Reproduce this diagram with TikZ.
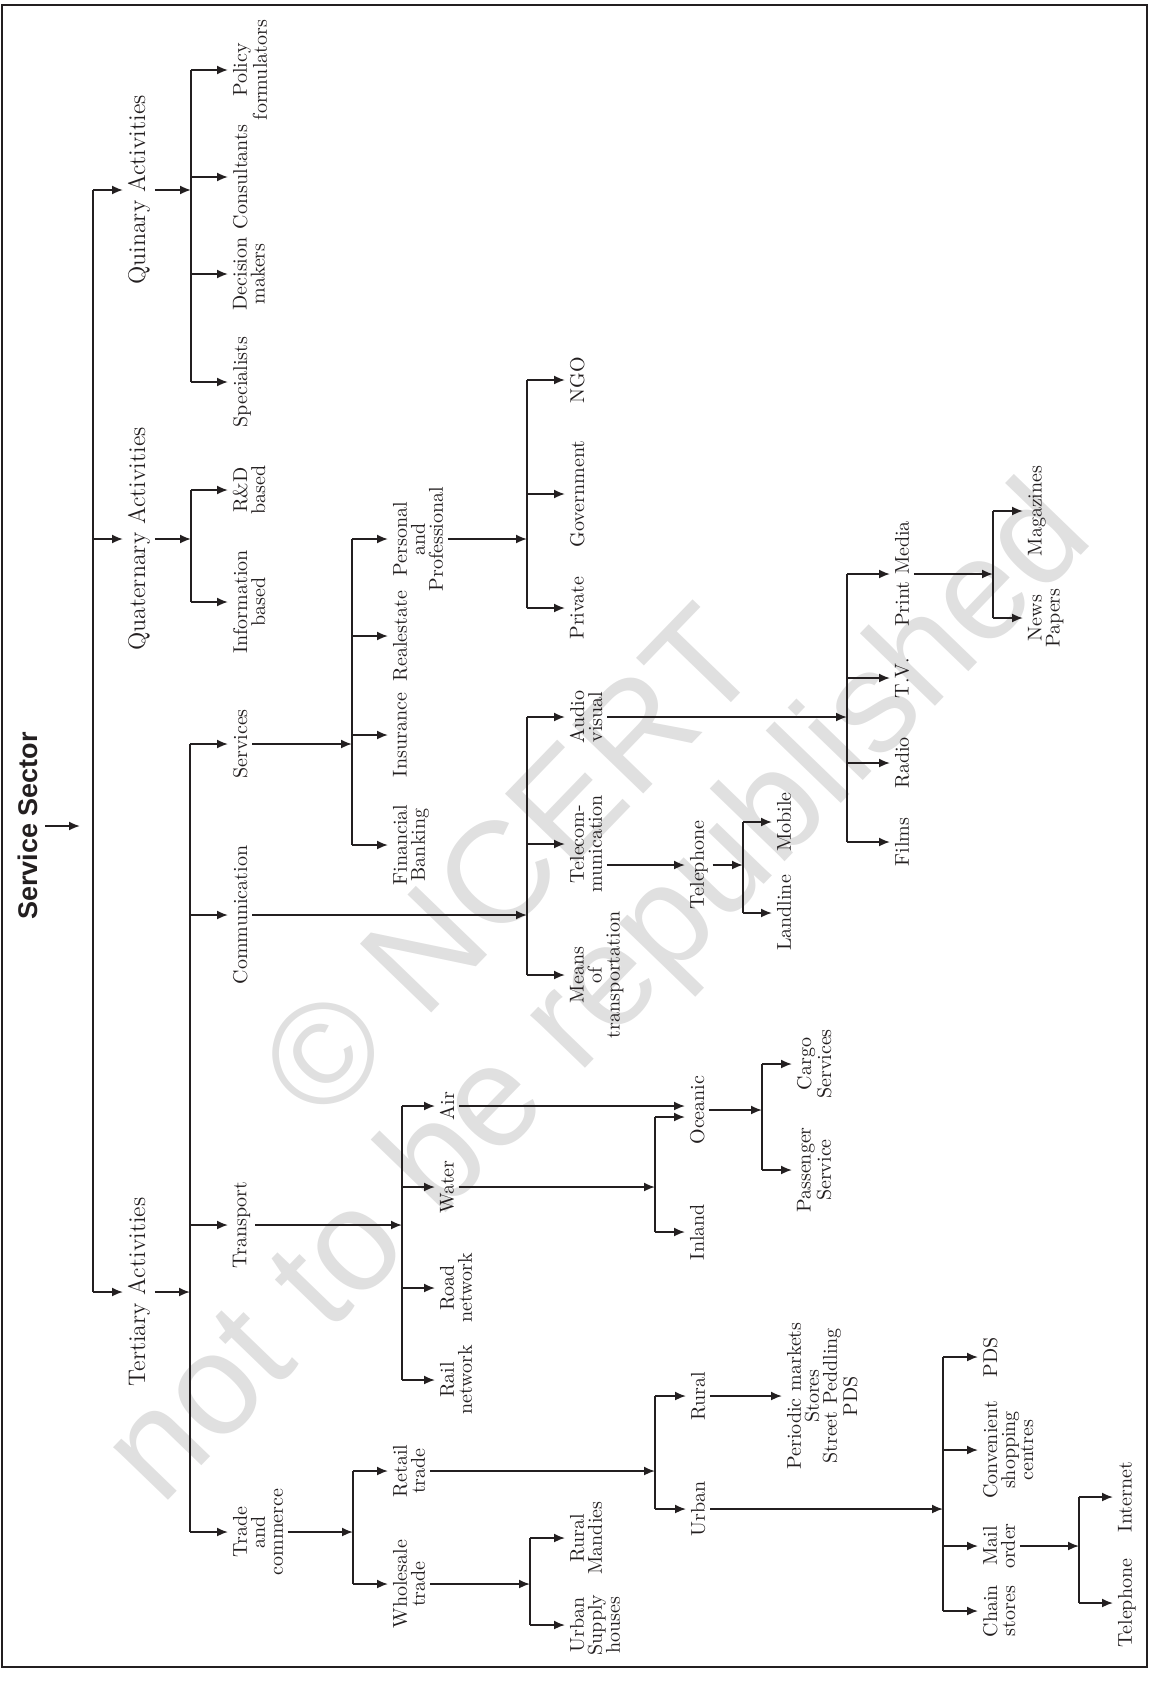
\documentclass[tikz,border=0pt]{standalone}
\usepackage{fontspec}
\usepackage{tikz}
\usetikzlibrary{arrows.meta}
\newfontfamily\headfont{Liberation Sans}
\definecolor{inkcolor}{RGB}{35,31,32}
\definecolor{markcolor}{RGB}{224,224,224}

\begin{document}
\begin{tikzpicture}[x=0.5pt, y=-0.5pt, color=inkcolor, line width=0.9pt,
    >={Latex[length=5.5pt,width=4.5pt]},
    lvl/.style={rotate=90, anchor=north, inner sep=2pt, font=\fontsize{12}{12}\selectfont},
    leaf/.style={rotate=90, anchor=north, inner sep=2pt, align=center, font=\fontsize{10}{9}\selectfont},
    wmark/.style={rotate=46, text=markcolor, font=\headfont\fontsize{72}{72}\selectfont}]
    \useasboundingbox (0,0) rectangle (1162,1686);
    % watermark
    \node[wmark] (wm1) at (509,862) {© NCERT};
    \node[wmark] (wm2) at (602,998) {not to be republished};
    \draw[line width=1.2pt] (2,5) rectangle (1147,1667);
    % root and first level
    \node[rotate=90, font=\headfont\bfseries\fontsize{13.5}{14}\selectfont] (root) at (28,826) {Service Sector};
    \coordinate (rootend) at (80,826);
    \coordinate (trunk) at (93,826);
    \node[lvl] (qui) at (123,190) {Quinary Activities};
    \node[lvl] (qua) at (123,539) {Quaternary Activities};
    \node[lvl] (ter) at (123,1292) {Tertiary Activities};
    \draw[->] (root.south) -- (root.south -| rootend);
    \draw (trunk |- qui.north) -- (trunk |- ter.north);
    \draw[->] (trunk |- qui.north) -- (qui.north);
    \draw[->] (trunk |- qua.north) -- (qua.north);
    \draw[->] (trunk |- ter.north) -- (ter.north);
    % quinary
    \coordinate (quibar) at (191,190);
    \node[leaf] (pol) at (228,70) {Policy\\formulators};
    \node[leaf] (con) at (228,177) {Consultants};
    \node[leaf] (dec) at (228,274) {Decision\\makers};
    \node[leaf] (spe) at (228,382) {Specialists};
    \draw[->] (qui.south) -- (qui.south -| quibar);
    \draw (quibar |- pol.north) -- (quibar |- spe.north);
    \draw[->] (quibar |- pol.north) -- (pol.north);
    \draw[->] (quibar |- con.north) -- (con.north);
    \draw[->] (quibar |- dec.north) -- (dec.north);
    \draw[->] (quibar |- spe.north) -- (spe.north);
    % quaternary
    \coordinate (quabar) at (191,539);
    \node[leaf] (rnd) at (228,490) {R\&D\\based};
    \node[leaf] (inf) at (228,602) {Information\\based};
    \draw[->] (qua.south) -- (qua.south -| quabar);
    \draw (quabar |- rnd.north) -- (quabar |- inf.north);
    \draw[->] (quabar |- rnd.north) -- (rnd.north);
    \draw[->] (quabar |- inf.north) -- (inf.north);
    % tertiary
    \coordinate (terbar) at (190,1292);
    \node[leaf] (srv) at (228,744) {Services};
    \node[leaf] (com) at (228,915) {Communication};
    \node[leaf] (tra) at (228,1225) {Transport};
    \node[leaf] (trd) at (228,1532) {Trade\\and\\commerce};
    \draw[->] (ter.south) -- (ter.south -| terbar);
    \draw (terbar |- srv.north) -- (terbar |- trd.north);
    \draw[->] (terbar |- srv.north) -- (srv.north);
    \draw[->] (terbar |- com.north) -- (com.north);
    \draw[->] (terbar |- tra.north) -- (tra.north);
    \draw[->] (terbar |- trd.north) -- (trd.north);
    % services
    \coordinate (srvbar) at (352,744);
    \node[leaf] (per) at (388,539) {Personal\\and\\Professional};
    \node[leaf] (rea) at (388,636) {Realestate};
    \node[leaf] (ins) at (388,735) {Insurance};
    \node[leaf] (fin) at (388,845) {Financial\\Banking};
    \draw[->] (srv.south) -- (srv.south -| srvbar);
    \draw (srvbar |- per.north) -- (srvbar |- fin.north);
    \draw[->] (srvbar |- per.north) -- (per.north);
    \draw[->] (srvbar |- rea.north) -- (rea.north);
    \draw[->] (srvbar |- ins.north) -- (ins.north);
    \draw[->] (srvbar |- fin.north) -- (fin.north);
    \coordinate (perbar) at (527,539);
    \node[leaf] (ngo) at (565,380) {NGO};
    \node[leaf] (gov) at (565,494) {Government};
    \node[leaf] (pri) at (565,608) {Private};
    \draw[->] (per.south) -- (per.south -| perbar);
    \draw (perbar |- ngo.north) -- (perbar |- pri.north);
    \draw[->] (perbar |- ngo.north) -- (ngo.north);
    \draw[->] (perbar |- gov.north) -- (gov.north);
    \draw[->] (perbar |- pri.north) -- (pri.north);
    % communication
    \coordinate (combar) at (527,915);
    \node[leaf] (aud) at (565,717) {Audio\\visual};
    \node[leaf] (tcm) at (565,844) {Telecom-\\munication};
    \node[leaf] (mea) at (565,975) {Means\\of\\transportation};
    \draw[->] (com.south) -- (com.south -| combar);
    \draw (combar |- aud.north) -- (combar |- mea.north);
    \draw[->] (combar |- aud.north) -- (aud.north);
    \draw[->] (combar |- tcm.north) -- (tcm.north);
    \draw[->] (combar |- mea.north) -- (mea.north);
    \coordinate (audbar) at (847,717);
    \node[leaf] (prt) at (890,574) {Print Media};
    \node[leaf] (tvs) at (890,678) {T.V.};
    \node[leaf] (rad) at (890,763) {Radio};
    \node[leaf] (fil) at (890,842) {Films};
    \draw[->] (aud.south) -- (aud.south -| audbar);
    \draw (audbar |- prt.north) -- (audbar |- fil.north);
    \draw[->] (audbar |- prt.north) -- (prt.north);
    \draw[->] (audbar |- tvs.north) -- (tvs.north);
    \draw[->] (audbar |- rad.north) -- (rad.north);
    \draw[->] (audbar |- fil.north) -- (fil.north);
    \coordinate (prtbar) at (993,574);
    \node[leaf] (mag) at (1023,511) {Magazines};
    \node[leaf] (nws) at (1023,618) {News\\Papers};
    \draw[->] (prt.south) -- (prt.south -| prtbar);
    \draw (prtbar |- mag.north) -- (prtbar |- nws.north);
    \draw[->] (prtbar |- mag.north) -- (mag.north);
    \draw[->] (prtbar |- nws.north) -- (nws.north);
    \node[leaf] (tph) at (685,865) {Telephone};
    \draw[->] (tcm.south |- tph.north) -- (tph.north);
    \coordinate (tphbar) at (743,865);
    \node[leaf] (mob) at (772,822) {Mobile};
    \node[leaf] (lan) at (772,913) {Landline};
    \draw[->] (tph.south) -- (tph.south -| tphbar);
    \draw (tphbar |- mob.north) -- (tphbar |- lan.north);
    \draw[->] (tphbar |- mob.north) -- (mob.north);
    \draw[->] (tphbar |- lan.north) -- (lan.north);
    % transport
    \coordinate (trabar) at (402,1225);
    \node[leaf] (air) at (435,1106) {Air};
    \node[leaf] (wat) at (435,1187) {Water};
    \node[leaf] (roa) at (435,1288) {Road\\network};
    \node[leaf] (rai) at (435,1380) {Rail\\network};
    \draw[->] (tra.south) -- (tra.south -| trabar);
    \draw (trabar |- air.north) -- (trabar |- rai.north);
    \draw[->] (trabar |- air.north) -- (air.north);
    \draw[->] (trabar |- wat.north) -- (wat.north);
    \draw[->] (trabar |- roa.north) -- (roa.north);
    \draw[->] (trabar |- rai.north) -- (rai.north);
    \node[leaf] (oce) at (685,1110) {Oceanic};
    \coordinate (watbar) at (655,1117);
    \node[leaf] (inl) at (685,1232) {Inland};
    \draw[->] (air.south) -- (air.south -| oce.north);
    \draw[->] (wat.south) -- (wat.south -| watbar);
    \draw (watbar) -- (watbar |- inl.north);
    \draw[->] (watbar) -- (watbar -| oce.north);
    \draw[->] (watbar |- inl.north) -- (inl.north);
    \coordinate (ocebar) at (762,1110);
    \node[leaf] (car) at (792,1064) {Cargo\\Services};
    \node[leaf] (pas) at (792,1170) {Passenger\\Service};
    \draw[->] (oce.south) -- (oce.south -| ocebar);
    \draw (ocebar |- car.north) -- (ocebar |- pas.north);
    \draw[->] (ocebar |- car.north) -- (car.north);
    \draw[->] (ocebar |- pas.north) -- (pas.north);
    % trade and commerce
    \coordinate (trdbar) at (353,1532);
    \node[leaf] (ret) at (388,1471) {Retail\\trade};
    \node[leaf] (who) at (388,1584) {Wholesale\\trade};
    \draw[->] (trd.south) -- (trd.south -| trdbar);
    \draw (trdbar |- ret.north) -- (trdbar |- who.north);
    \draw[->] (trdbar |- ret.north) -- (ret.north);
    \draw[->] (trdbar |- who.north) -- (who.north);
    \coordinate (retbar) at (655,1471);
    \node[leaf] (rur) at (686,1396) {Rural};
    \node[leaf] (urb) at (686,1509) {Urban};
    \draw[->] (ret.south) -- (ret.south -| retbar);
    \draw (retbar |- rur.north) -- (retbar |- urb.north);
    \draw[->] (retbar |- rur.north) -- (rur.north);
    \draw[->] (retbar |- urb.north) -- (urb.north);
    \node[leaf] (rls) at (782,1396) {Periodic markets\\Stores\\Street Peddling\\PDS};
    \draw[->] (rur.south) -- (rur.south -| rls.north);
    \coordinate (urbbar) at (943,1509);
    \node[leaf] (pds) at (978,1357) {PDS};
    \node[leaf] (cvs) at (978,1450) {Convenient\\shopping\\centres};
    \node[leaf] (mai) at (978,1546) {Mail\\order};
    \node[leaf] (cha) at (978,1611) {Chain\\stores};
    \draw[->] (urb.south) -- (urb.south -| urbbar);
    \draw (urbbar |- pds.north) -- (urbbar |- cha.north);
    \draw[->] (urbbar |- pds.north) -- (pds.north);
    \draw[->] (urbbar |- cvs.north) -- (cvs.north);
    \draw[->] (urbbar |- mai.north) -- (mai.north);
    \draw[->] (urbbar |- cha.north) -- (cha.north);
    \coordinate (maibar) at (1079,1546);
    \node[leaf] (inet) at (1113,1497) {Internet};
    \node[leaf] (tel) at (1113,1603) {Telephone};
    \draw[->] (mai.south) -- (mai.south -| maibar);
    \draw (maibar |- inet.north) -- (maibar |- tel.north);
    \draw[->] (maibar |- inet.north) -- (inet.north);
    \draw[->] (maibar |- tel.north) -- (tel.north);
    \coordinate (whobar) at (530,1584);
    \node[leaf] (rmd) at (565,1538) {Rural\\Mandies};
    \node[leaf] (usp) at (565,1625) {Urban\\Supply\\houses};
    \draw[->] (who.south) -- (who.south -| whobar);
    \draw (whobar |- rmd.north) -- (whobar |- usp.north);
    \draw[->] (whobar |- rmd.north) -- (rmd.north);
    \draw[->] (whobar |- usp.north) -- (usp.north);
\end{tikzpicture}
\end{document}
